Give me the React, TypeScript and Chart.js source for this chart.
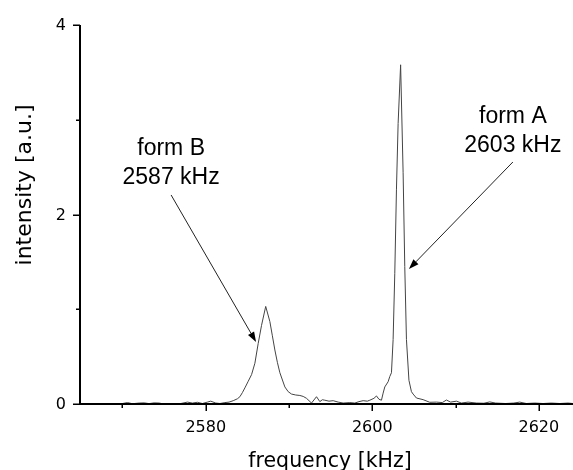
import React, { useEffect, useRef } from "react";
import { Chart, registerables } from "chart.js";

Chart.register(...registerables);

// Spectrum: frequency (kHz) and intensity (a.u.)
const freqKHz = [
  2565.0, 2566.0, 2567.0, 2568.0, 2569.0, 2570.0, 2570.6, 2571.2, 2572.0, 2572.6,
  2573.2, 2573.8, 2574.4, 2575.0, 2576.0, 2577.0, 2577.8, 2578.4, 2579.0, 2579.6,
  2580.2, 2580.6, 2581.2, 2581.7, 2582.3, 2582.8, 2583.3, 2583.8, 2584.1, 2584.4,
  2584.7, 2585.1, 2585.5, 2585.9, 2586.3, 2586.7, 2587.2, 2587.7, 2588.0, 2588.3,
  2588.6, 2588.9, 2589.5, 2589.9, 2590.3, 2590.8, 2591.3, 2591.7, 2592.1, 2592.7,
  2593.3, 2593.7, 2594.0, 2594.3, 2594.8, 2595.3, 2595.9, 2596.5, 2597.3, 2597.9,
  2598.4, 2598.9, 2599.4, 2599.7, 2600.2, 2600.5, 2600.8, 2601.1, 2601.3, 2601.5,
  2601.9, 2602.1, 2602.3, 2602.5, 2602.7, 2602.9, 2603.1, 2603.4, 2603.7, 2603.9,
  2604.1, 2604.4, 2604.7, 2604.9, 2605.3, 2606.1, 2606.9, 2607.7, 2608.4, 2608.9,
  2609.4, 2610.1, 2610.7, 2611.5, 2612.5, 2613.4, 2614.1, 2614.8, 2616.0, 2617.0,
  2617.7, 2618.5, 2619.5, 2620.5, 2621.5, 2622.5, 2623.5, 2624.1,
];

const intensity = [
  0.005, 0.0, 0.005, 0.0, 0.003, 0.005, 0.015, 0.003, 0.01, 0.012,
  0.004, 0.012, 0.01, 0.0, 0.003, 0.005, 0.02, 0.01, 0.018, 0.005,
  0.02, 0.03, 0.01, 0.005, 0.015, 0.02, 0.035, 0.055, 0.077, 0.12,
  0.17, 0.24, 0.31, 0.43, 0.64, 0.83, 1.03, 0.87, 0.72, 0.57,
  0.44, 0.33, 0.18, 0.13, 0.105, 0.095, 0.09, 0.08, 0.06, 0.01,
  0.077, 0.025, 0.045, 0.04, 0.03, 0.035, 0.02, 0.01, 0.015, 0.01,
  0.025, 0.035, 0.03, 0.04, 0.06, 0.085, 0.05, 0.04, 0.115, 0.18,
  0.235, 0.29, 0.33, 0.68, 1.38, 2.26, 2.96, 3.58, 2.44, 1.45,
  0.68, 0.25, 0.13, 0.105, 0.063, 0.046, 0.018, 0.02, 0.015, 0.042,
  0.02, 0.03, 0.01, 0.02, 0.01, 0.008, 0.022, 0.01, 0.005, 0.01,
  0.02, 0.005, 0.01, 0.005, 0.01, 0.005, 0.01, 0.005,
];

// Axis ranges and ticks
const xMin = 2564.9;
const xMax = 2624.1;
const xTicks = [2570, 2580, 2590, 2600, 2610, 2620];
const xLabeledTicks = [2580, 2600, 2620];
const yMin = 0;
const yMax = 4;
const yTicks = [0, 1, 2, 3, 4];
const yLabeledTicks = [0, 2, 4];

const xTitle = "frequency [kHz]";
const yTitle = "intensity [a.u.]";

// Peak call-outs: text anchor, arrow tail and arrow tip in data units
const peakNotes = [
  { lines: ["form B", "2587 kHz"], textX: 2575.84, textY: 2.628, tailX: 2575.84, tailY: 2.206, tipX: 2586.04, tipY: 0.654 },
  { lines: ["form A", "2603 kHz"], textX: 2616.88, textY: 2.966, tailX: 2616.88, tailY: 2.554, tipX: 2604.4, tipY: 1.425 },
];

const AXIS_FONT = '"DejaVu Sans", sans-serif';
const NOTE_FONT = '"Liberation Sans", Arial, sans-serif';

const axesPlugin = {
  id: "frameAxes",
  afterDraw(chart: any) {
    const { ctx, chartArea } = chart;
    const xs = chart.scales.x;
    const ys = chart.scales.y;
    const left = chartArea.left;
    const bottom = ys.getPixelForValue(0);
    const top = ys.getPixelForValue(yMax);
    ctx.save();

    // axis lines
    ctx.strokeStyle = "#000";
    ctx.lineWidth = 2;
    ctx.beginPath();
    ctx.moveTo(left, top);
    ctx.lineTo(left, bottom + 1);
    ctx.moveTo(left - 1, bottom);
    ctx.lineTo(chart.width, bottom);
    ctx.stroke();

    // tick marks
    ctx.lineWidth = 1.5;
    ctx.beginPath();
    for (const v of yTicks) {
      const y = Math.round(ys.getPixelForValue(v)) + 0.25;
      const len = yLabeledTicks.includes(v) ? 7 : 4;
      ctx.moveTo(left - len, y);
      ctx.lineTo(left, y);
    }
    for (const v of xTicks) {
      const x = Math.round(xs.getPixelForValue(v)) + 0.25;
      const len = xLabeledTicks.includes(v) ? 7 : 4;
      ctx.moveTo(x, bottom);
      ctx.lineTo(x, bottom + len);
    }
    ctx.stroke();

    // tick labels
    ctx.fillStyle = "#000";
    ctx.font = `16px ${AXIS_FONT}`;
    ctx.textAlign = "center";
    ctx.textBaseline = "alphabetic";
    for (const v of xLabeledTicks) {
      ctx.fillText(String(v), xs.getPixelForValue(v), bottom + 28);
    }
    ctx.textAlign = "right";
    ctx.textBaseline = "middle";
    for (const v of yLabeledTicks) {
      ctx.fillText(String(v), left - 14, ys.getPixelForValue(v) + 1);
    }

    // axis titles
    ctx.textAlign = "center";
    ctx.textBaseline = "alphabetic";
    ctx.font = `20.5px ${AXIS_FONT}`;
    ctx.fillText(xTitle, 330, bottom + 63);
    ctx.save();
    ctx.translate(31, 185);
    ctx.rotate(-Math.PI / 2);
    ctx.font = `22px ${AXIS_FONT}`;
    ctx.fillText(yTitle, 0, 0);
    ctx.restore();

    // peak call-outs
    for (const n of peakNotes) {
      const tx = xs.getPixelForValue(n.textX);
      const ty = ys.getPixelForValue(n.textY);
      ctx.font = `23px ${NOTE_FONT}`;
      ctx.textAlign = "center";
      n.lines.forEach((line, i) => ctx.fillText(line, tx, ty + i * 29));

      const x0 = xs.getPixelForValue(n.tailX);
      const y0 = ys.getPixelForValue(n.tailY);
      const x1 = xs.getPixelForValue(n.tipX);
      const y1 = ys.getPixelForValue(n.tipY);
      const ang = Math.atan2(y1 - y0, x1 - x0);
      const headLen = 10;
      const headHalf = 3.5;
      const bx = x1 - headLen * Math.cos(ang);
      const by = y1 - headLen * Math.sin(ang);
      ctx.strokeStyle = "#222";
      ctx.lineWidth = 1;
      ctx.beginPath();
      ctx.moveTo(x0, y0);
      ctx.lineTo(bx, by);
      ctx.stroke();
      ctx.fillStyle = "#000";
      ctx.beginPath();
      ctx.moveTo(x1, y1);
      ctx.lineTo(bx + headHalf * Math.sin(ang), by - headHalf * Math.cos(ang));
      ctx.lineTo(bx - headHalf * Math.sin(ang), by + headHalf * Math.cos(ang));
      ctx.closePath();
      ctx.fill();
    }
    ctx.restore();
  },
};

export default function App() {
  const canvasRef = useRef<HTMLCanvasElement | null>(null);

  useEffect(() => {
    if (!canvasRef.current) return;
    const points = freqKHz.map((f, i) => ({ x: f, y: intensity[i] }));
    const chart = new Chart(canvasRef.current, {
      type: "line",
      data: {
        datasets: [
          {
            data: points,
            borderColor: "#444",
            borderWidth: 1,
            pointRadius: 0,
            tension: 0,
            fill: false,
          },
        ],
      },
      options: {
        animation: false,
        responsive: false,
        devicePixelRatio: 1,
        layout: { padding: { left: 80, top: 25, right: 0, bottom: 66 } },
        plugins: { legend: { display: false }, tooltip: { enabled: false } },
        scales: {
          x: { type: "linear", min: xMin, max: xMax, display: false },
          y: { type: "linear", min: yMin, max: yMax, display: false },
        },
      },
      plugins: [axesPlugin],
    });
    return () => chart.destroy();
  }, []);

  return (
    <div style={{ position: "fixed", left: 0, top: 0, width: 573, height: 470, background: "#fff" }}>
      <canvas ref={canvasRef} width={573} height={470} />
    </div>
  );
}
